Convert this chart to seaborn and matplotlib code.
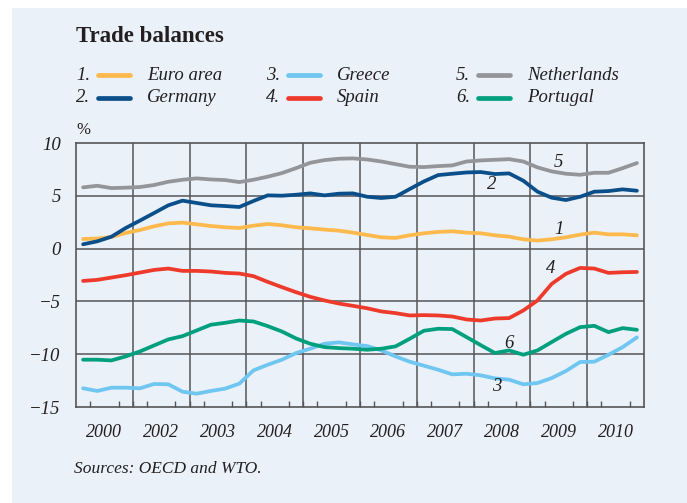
import numpy as np
import pandas as pd
import matplotlib
matplotlib.use("Agg")
import matplotlib.pyplot as plt
from matplotlib.lines import Line2D
from matplotlib.patches import Rectangle
import seaborn as sns

# Quarterly trade balances, % of GDP (40 quarters)
euro_area = [0.91, 0.95, 1.10, 1.48, 1.76, 2.11, 2.39, 2.46, 2.30, 2.14,
             2.02, 1.95, 2.17, 2.33, 2.21, 2.02, 1.92, 1.80, 1.70, 1.51,
             1.29, 1.07, 1.01, 1.26, 1.45, 1.58, 1.64, 1.51, 1.45, 1.26,
             1.13, 0.88, 0.76, 0.88, 1.07, 1.32, 1.51, 1.35, 1.35, 1.26]
germany = [0.41, 0.69, 1.13, 1.95, 2.65, 3.37, 4.10, 4.54, 4.32, 4.10,
           4.03, 3.94, 4.51, 5.04, 5.01, 5.10, 5.23, 5.04, 5.20, 5.23,
           4.91, 4.79, 4.91, 5.64, 6.36, 6.96, 7.09, 7.21, 7.25, 7.06,
           7.12, 6.43, 5.39, 4.82, 4.60, 4.91, 5.39, 5.45, 5.61, 5.48]
greece = [-13.23, -13.48, -13.17, -13.17, -13.23, -12.82, -12.85, -13.55, -13.74, -13.48,
          -13.26, -12.79, -11.53, -11.00, -10.52, -9.89, -9.48, -9.01, -8.88, -9.07,
          -9.23, -9.64, -10.21, -10.71, -11.09, -11.47, -11.91, -11.85, -12.00, -12.29,
          -12.41, -12.85, -12.73, -12.26, -11.59, -10.74, -10.71, -10.05, -9.33, -8.41]
spain = [-3.06, -2.96, -2.74, -2.52, -2.27, -2.02, -1.89, -2.11, -2.11, -2.17,
         -2.30, -2.36, -2.61, -3.15, -3.65, -4.13, -4.57, -4.91, -5.20, -5.42,
         -5.65, -5.95, -6.11, -6.33, -6.30, -6.33, -6.43, -6.71, -6.81, -6.62,
         -6.58, -5.86, -4.91, -3.34, -2.39, -1.83, -1.89, -2.30, -2.24, -2.21]
netherlands = [5.80, 5.95, 5.73, 5.77, 5.83, 6.02, 6.33, 6.52, 6.65, 6.55,
               6.49, 6.30, 6.52, 6.81, 7.15, 7.62, 8.13, 8.38, 8.51, 8.54,
               8.44, 8.25, 8.00, 7.75, 7.72, 7.81, 7.88, 8.25, 8.35, 8.41,
               8.47, 8.25, 7.69, 7.31, 7.09, 6.99, 7.18, 7.18, 7.62, 8.10]
portugal = [-10.52, -10.52, -10.59, -10.21, -9.74, -9.17, -8.60, -8.29, -7.75, -7.21,
            -7.03, -6.81, -6.90, -7.34, -7.85, -8.51, -9.01, -9.33, -9.42, -9.48,
            -9.58, -9.48, -9.26, -8.54, -7.78, -7.59, -7.62, -8.38, -9.14, -9.89,
            -9.64, -10.05, -9.64, -8.85, -8.07, -7.44, -7.31, -7.91, -7.53, -7.69]

countries = ["Euro area", "Germany", "Greece", "Spain", "Netherlands", "Portugal"]
series = [euro_area, germany, greece, spain, netherlands, portugal]
colors = ["#FDB94B", "#0B4F8A", "#6EC6F1", "#EE3A2B", "#939598", "#00A07F"]
year_labels = ["2000", "2002", "2003", "2004", "2005", "2006", "2007", "2008", "2009", "2010"]
y_ticks = [10, 5, 0, -5, -10, -15]
y_ticklabels = ["10", "5", "0", "\u22125", "\u221210", "\u221215"]

# Series number labels placed beside the lines (quarter position, value)
line_tags = [("1", 34.0, 1.8), ("2", 29.3, 6.1), ("3", 29.6, -13.1),
             ("4", 33.4, -1.9), ("5", 34.0, 8.15), ("6", 30.5, -8.95)]

quarter = np.arange(40) + 0.5
df = pd.concat([pd.DataFrame({"quarter": quarter, "value": vals, "country": name})
                for name, vals in zip(countries, series)], ignore_index=True)

BG = "#EAF1F8"
GRID = "#555557"
INK = "#231F20"
sns.set_style("white")
plt.rcParams["font.family"] = ["Liberation Serif", "DejaVu Serif"]

fig = plt.figure(figsize=(6.87, 5.03), dpi=100)
fig.patch.set_facecolor("white")
fig.add_artist(Rectangle((12 / 687, 0), 1 - 12 / 687, 1 - 8 / 503,
                         transform=fig.transFigure, facecolor=BG,
                         edgecolor="none", zorder=-10))

ax = fig.add_axes([76 / 687, 1 - 407 / 503, 568 / 687, 264 / 503])
ax.set_facecolor(BG)

sns.lineplot(data=df, x="quarter", y="value", hue="country",
             hue_order=countries, palette=colors, linewidth=2.7,
             legend=False, ax=ax, zorder=3)

ax.set_xlim(0, 40)
ax.set_ylim(-15, 10)

# Year gridlines and 5-step horizontal gridlines
for xv in range(4, 40, 4):
    ax.axvline(xv, color=GRID, lw=1.1, zorder=1)
for yv in [5, 0, -5, -10]:
    ax.axhline(yv, color=GRID, lw=1.1, zorder=1)

for sp in ax.spines.values():
    sp.set_color(GRID)
    sp.set_linewidth(1.2)

ax.set_yticks(y_ticks)
ax.set_yticklabels(y_ticklabels, fontstyle="italic", fontsize=13.5, color=INK)
ax.tick_params(axis="y", length=0, pad=11)

ax.set_xticks(np.arange(2, 40, 4))
ax.set_xticklabels(year_labels, fontstyle="italic", fontsize=13, color=INK)
ax.set_xticks(np.arange(1, 40, 1), minor=True)
ax.tick_params(axis="x", which="major", length=0, pad=12)
ax.tick_params(axis="x", which="minor", length=4, width=1, direction="in",
               color=GRID, bottom=True, top=False)
ax.set_xlabel("")
ax.set_ylabel("")

for txt, qx, qy in line_tags:
    ax.text(qx, qy, txt, fontsize=13.5, fontstyle="italic", color=INK,
            ha="center", va="center", zorder=4)

# Title, unit and source
fig.text(76 / 687, 1 - 37 / 503, "Trade balances", fontsize=16.5,
         fontweight="bold", color=INK, ha="left", va="center")
fig.text(76 / 687, 1 - 130 / 503, "%", fontsize=12, color=INK,
         ha="left", va="center")
fig.text(74 / 687, 1 - 469 / 503, "Sources: OECD and WTO.", fontsize=12.5,
         fontstyle="italic", color=INK, ha="left", va="center")

# Numbered key in three columns
col_x = [76, 266, 456]
row_y = [75, 98]
for i, (name, col) in enumerate(zip(countries, colors)):
    cx = col_x[i // 2]
    cy = 1 - row_y[i % 2] / 503
    fig.text(cx / 687, cy, f"{i + 1}.", fontsize=13.5, fontstyle="italic",
             color=INK, ha="left", va="center")
    fig.add_artist(Line2D([(cx + 22) / 687, (cx + 54) / 687], [cy, cy],
                          transform=fig.transFigure, color=col, lw=3.4,
                          solid_capstyle="round"))
    fig.text((cx + 71) / 687, cy, name, fontsize=13.5, fontstyle="italic",
             color=INK, ha="left", va="center")

fig.savefig("out.png", dpi=100, facecolor=fig.get_facecolor())
